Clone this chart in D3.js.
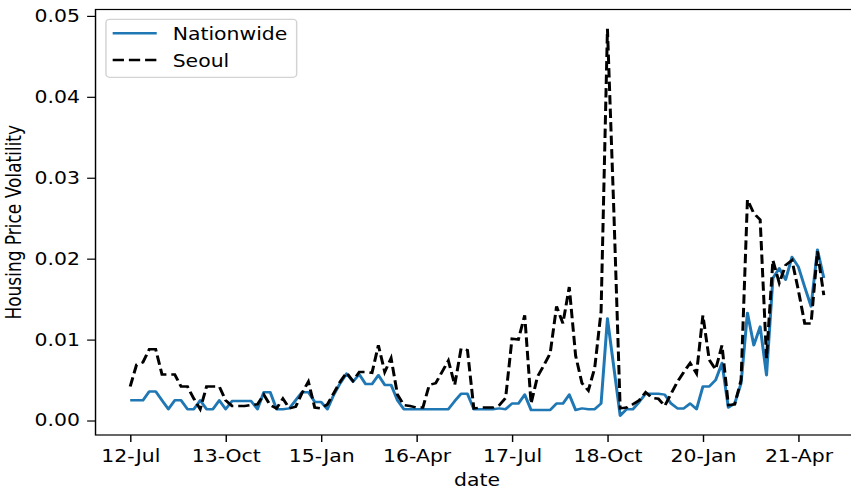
<!DOCTYPE html>
<html>
<head>
<meta charset="utf-8">
<script src="https://cdn.jsdelivr.net/npm/d3@7"></script>
<style>
  html, body { margin: 0; padding: 0; background: #fff; }
  svg { display: block; font-family: "DejaVu Sans", sans-serif; }
</style>
</head>
<body>
<div id="chart"></div>
<script>
// Monthly volatility, Jul 2012 .. Aug 2021
const startMonth = new Date(2012, 6, 1);

const nationwide = [
    0.0025, 0.0025, 0.0025, 0.0036, 0.0036, 0.0025, 0.0014, 0.0025, 0.0025, 0.0014,
    0.0014, 0.0025, 0.0014, 0.0014, 0.0025, 0.0014, 0.0024, 0.0024, 0.0024, 0.0024,
    0.0014, 0.0035, 0.0035, 0.0014, 0.0014, 0.0015, 0.0025, 0.0035, 0.0035, 0.0023,
    0.0023, 0.0014, 0.0032, 0.0046, 0.0058, 0.0048, 0.0057, 0.0045, 0.0045, 0.0056,
    0.0044, 0.0044, 0.0025, 0.0014, 0.0014, 0.0014, 0.0014, 0.0014, 0.0014, 0.0014,
    0.0014, 0.0024, 0.0033, 0.0033, 0.0014, 0.0014, 0.0014, 0.0014, 0.0015, 0.0014,
    0.0021, 0.0021, 0.0032, 0.0013, 0.0013, 0.0013, 0.0013, 0.0021, 0.0021, 0.0032,
    0.0013, 0.0015, 0.0014, 0.0014, 0.0021, 0.0126, 0.0066, 0.0006, 0.0014, 0.0014,
    0.0023, 0.0033, 0.0033, 0.0033, 0.0032, 0.0021, 0.0015, 0.0015, 0.0021, 0.0014,
    0.0042, 0.0042, 0.0050, 0.0071, 0.0016, 0.0021, 0.0046, 0.0133, 0.0093, 0.0116,
    0.0056, 0.0176, 0.0188, 0.0174, 0.0202, 0.0190, 0.0165, 0.0141, 0.0211, 0.0176
];

const seoul = [
    0.0042, 0.0069, 0.0072, 0.0088, 0.0088, 0.0057, 0.0057, 0.0057, 0.0042, 0.0042,
    0.0027, 0.0014, 0.0042, 0.0042, 0.0042, 0.0025, 0.0018, 0.0018, 0.0018, 0.0019,
    0.0020, 0.0032, 0.0019, 0.0015, 0.0027, 0.0015, 0.0017, 0.0034, 0.0048, 0.0016,
    0.0015, 0.0020, 0.0034, 0.0048, 0.0059, 0.0049, 0.0060, 0.0060, 0.0059, 0.0093,
    0.0060, 0.0077, 0.0032, 0.0019, 0.0018, 0.0016, 0.0016, 0.0044, 0.0046, 0.0060,
    0.0074, 0.0044, 0.0089, 0.0087, 0.0015, 0.0016, 0.0016, 0.0016, 0.0019, 0.0028,
    0.0101, 0.0100, 0.0130, 0.0021, 0.0054, 0.0068, 0.0083, 0.0141, 0.0120, 0.0165,
    0.0080, 0.0046, 0.0037, 0.0065, 0.0135, 0.0484, 0.0260, 0.0015, 0.0016, 0.0020,
    0.0025, 0.0035, 0.0028, 0.0027, 0.0018, 0.0033, 0.0048, 0.0060, 0.0071, 0.0058,
    0.0130, 0.0075, 0.0063, 0.0093, 0.0019, 0.0020, 0.0050, 0.0273, 0.0256, 0.0248,
    0.0077, 0.0198, 0.0170, 0.0192, 0.0198, 0.0161, 0.0120, 0.0120, 0.0209, 0.0155
];

const seriesNames = ["Nationwide", "Seoul"];
const tickLabels = ["12-Jul", "13-Oct", "15-Jan", "16-Apr", "17-Jul", "18-Oct", "20-Jan", "21-Apr"];
const yTicks = [0, 0.01, 0.02, 0.03, 0.04, 0.05];

(function() {
    const W = 851, H = 490;
    const SX = 1.2;   // the source picture is stretched sideways
    const left = 79.6, top = 9.5;
    const plotW = 635.8, plotH = 425.5;
    const fontSize = 17;

    const months = d3.timeMonth.range(startMonth, d3.timeMonth.offset(startMonth, nationwide.length));
    const fmt = d3.timeFormat("%y-%b");
    const tickIdx = months.map((m, i) => tickLabels.includes(fmt(m)) ? i : -1).filter(i => i >= 0);

    const svg = d3.select('#chart')
        .append('svg')
        .attr('width', W)
        .attr('height', H);

    const root = svg.append('g').attr('transform', `scale(${SX},1)`);
    const g = root.append('g').attr('transform', `translate(${left},${top})`);

    // scales with matplotlib-like 5% margins
    const n = nationwide.length;
    const xPad = 0.05 * (n - 1);
    const x = d3.scaleLinear().domain([-xPad, n - 1 + xPad]).range([0, plotW]);

    const all = nationwide.concat(seoul);
    const yMin = d3.min(all), yMax = d3.max(all);
    const yPad = 0.05 * (yMax - yMin);
    const y = d3.scaleLinear().domain([yMin - yPad, yMax + yPad]).range([plotH, 0]);

    // axes
    const xAxis = g.append('g')
        .attr('transform', `translate(0,${plotH})`)
        .call(d3.axisBottom(x)
            .tickValues(tickIdx)
            .tickFormat(i => fmt(months[i]))
            .tickSize(7)
            .tickSizeOuter(0)
            .tickPadding(7.5));

    const yAxis = g.append('g')
        .call(d3.axisLeft(y)
            .tickValues(yTicks)
            .tickFormat(d3.format('.2f'))
            .tickSize(7)
            .tickSizeOuter(0)
            .tickPadding(6));

    [xAxis, yAxis].forEach(a => {
        a.select('.domain').remove();
        a.selectAll('line').attr('stroke', '#000').attr('stroke-width', 1.2);
        a.selectAll('text')
            .attr('fill', '#000')
            .style('font-size', fontSize + 'px')
            .style('font-family', '"DejaVu Sans", sans-serif');
    });

    // lines
    const line = d3.line()
        .x((d, i) => x(i))
        .y(d => y(d));

    g.append('path')
        .datum(nationwide)
        .attr('d', line)
        .attr('fill', 'none')
        .attr('stroke', '#1f77b4')
        .attr('stroke-width', 2.5)
        .attr('stroke-linejoin', 'round');

    g.append('path')
        .datum(seoul)
        .attr('d', line)
        .attr('fill', 'none')
        .attr('stroke', '#000')
        .attr('stroke-width', 2.5)
        .attr('stroke-dasharray', '9.4,4.1');

    // spines
    g.append('rect')
        .attr('width', plotW)
        .attr('height', plotH)
        .attr('fill', 'none')
        .attr('stroke', '#000')
        .attr('stroke-width', 1.2);

    // axis labels
    g.append('text')
        .attr('x', plotW / 2)
        .attr('y', plotH + 51.5)
        .attr('text-anchor', 'middle')
        .style('font-size', fontSize + 'px')
        .text('date');

    g.append('text')
        .attr('transform', `translate(${17.5 - left},${plotH / 2}) rotate(-90)`)
        .attr('text-anchor', 'middle')
        .style('font-size', fontSize + 'px')
        .text('Housing Price Volatility');

    // legend
    const lg = g.append('g').attr('transform', `translate(${88.3 - left},${19.3 - top})`);
    lg.append('rect')
        .attr('width', 158.9)
        .attr('height', 58)
        .attr('rx', 3)
        .attr('fill', '#fff')
        .attr('fill-opacity', 0.8)
        .attr('stroke', '#d3d3d3')
        .attr('stroke-width', 1.2);

    const styles = [
        {stroke: '#1f77b4', dash: null},
        {stroke: '#000', dash: '9.4,4.1'}
    ];
    seriesNames.forEach((name, k) => {
        const ly = 14 + k * 26.7;
        lg.append('line')
            .attr('x1', 5.6).attr('x2', 42.3)
            .attr('y1', ly).attr('y2', ly)
            .attr('stroke', styles[k].stroke)
            .attr('stroke-width', 2.5)
            .attr('stroke-dasharray', styles[k].dash);
        lg.append('text')
            .attr('x', 55.6)
            .attr('y', ly + 7.2)
            .style('font-size', fontSize + 'px')
            .text(name);
    });
})();
</script>
</body>
</html>
